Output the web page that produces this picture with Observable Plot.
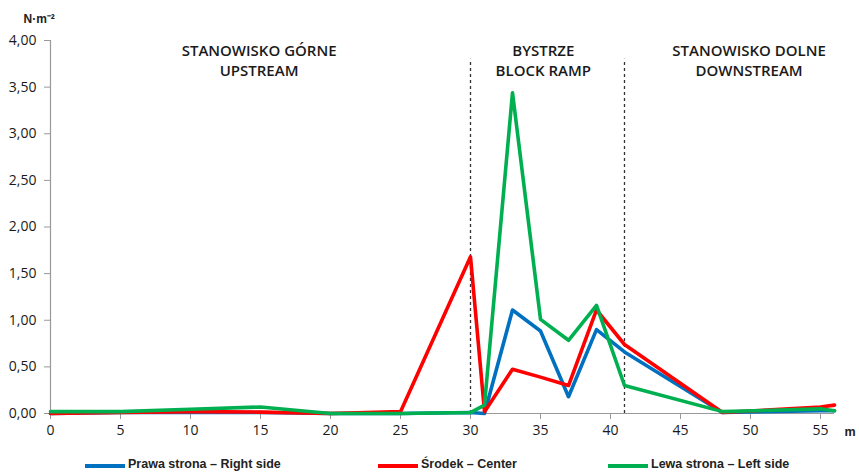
<!DOCTYPE html>
<html>
<head>
<meta charset="utf-8">
<script src="https://cdn.jsdelivr.net/npm/d3@7"></script>
<script src="https://cdn.jsdelivr.net/npm/@observablehq/plot@0.6"></script>
<style>
  body { margin: 0; background: #fff; }
  #wrap { position: relative; width: 859px; height: 473px; }
  .leg { position: absolute; top: 457px; height: 16px; font-family: "Liberation Sans", Arial, sans-serif; font-weight: bold; font-size: 12.5px; color: #222; white-space: nowrap; }
  .leg span.sw { position: absolute; top: 7px; height: 4px; }
  .leg span.tx { position: absolute; top: 0; }
</style>
</head>
<body>
<div id="wrap"></div>
<script>
// ---- data ----
const distances = [0, 5, 10, 15, 20, 25, 30, 31, 33, 35, 37, 39, 41, 48, 55, 56];
const rightSide = [0, 0.01, 0.01, 0.01, 0, 0, 0.01, 0.0, 1.11, 0.885, 0.18, 0.90, 0.66, 0.01, 0.03, 0.03];
const center    = [0, 0.01, 0.02, 0.015, 0, 0.02, 1.68, 0.02, 0.475, 0.39, 0.30, 1.11, 0.74, 0.01, 0.07, 0.09];
const leftSide  = [0.02, 0.02, 0.045, 0.07, 0.0, 0.0, 0.01, 0.09, 3.44, 1.01, 0.785, 1.16, 0.30, 0.02, 0.05, 0.03];
const seriesNames = ["Prawa strona \u2013 Right side", "\u015arodek \u2013 Center", "Lewa strona \u2013 Left side"];
const seriesColors = ["#0070C0", "#FF0000", "#00B050"];
const xTicks = [0, 5, 10, 15, 20, 25, 30, 35, 40, 45, 50, 55];
const yTicks = [0, 0.5, 1, 1.5, 2, 2.5, 3, 3.5, 4];
const sectionBounds = [30, 41];
const sectionLine1 = ["STANOWISKO G\u00d3RNE", "BYSTRZE", "STANOWISKO DOLNE"];
const sectionLine2 = ["UPSTREAM", "BLOCK RAMP", "DOWNSTREAM"];
const sectionCenters = [14.9, 35.2, 49.9];

const seriesValues = [rightSide, center, leftSide];
const rows = [];
seriesValues.forEach((vals, si) => {
  vals.forEach((v, i) => rows.push({series: seriesNames[si], x: distances[i], y: v}));
});
const sections = sectionLine1.map((t, i) => ({x: sectionCenters[i], t1: t, t2: sectionLine2[i]}));

const fmt = d => d.toFixed(2).replace(".", ",");
const tickFont = "Open Sans, sans-serif";

const chart = Plot.plot({
  width: 859,
  height: 450,
  marginLeft: 50,
  marginRight: 25,
  marginTop: 40,
  marginBottom: 37,
  style: {fontFamily: tickFont, fontSize: "14px", color: "#1a1a1a", background: "#fff", overflow: "visible"},
  x: {domain: [0, 56]},
  y: {domain: [0, 4]},
  color: {domain: seriesNames, range: seriesColors},
  marks: [
    Plot.axisX({ticks: xTicks, tickFormat: d => String(d), tickSize: 6, tickPadding: 6, stroke: "#999", fontSize: 14, fontWeight: 500, label: null, fill: "#1a1a1a"}),
    Plot.axisY({ticks: yTicks, tickFormat: fmt, tickSize: 6, tickPadding: 8, stroke: "#999", fontSize: 14, fontWeight: 500, label: null, fill: "#1a1a1a"}),
    Plot.ruleY([0], {stroke: "#999", strokeWidth: 1.2}),
    Plot.ruleX([0], {stroke: "#999", strokeWidth: 1.2}),
    Plot.ruleX(sectionBounds, {y1: 0, y2: 3.8, stroke: "#333", strokeWidth: 1.3, strokeDasharray: "3,3"}),
    Plot.line(rows, {x: "x", y: "y", z: "series", stroke: "series", strokeWidth: 3.6, strokeLinejoin: "round", strokeLinecap: "round"}),
    Plot.text(sections, {x: "x", y: 3.89, text: "t1", fontFamily: tickFont, fontSize: 15, fontWeight: 600, fill: "#1a1a1a"}),
    Plot.text(sections, {x: "x", y: 3.675, text: "t2", fontFamily: tickFont, fontSize: 15, fontWeight: 600, fill: "#1a1a1a"}),
    Plot.text(["N\u00b7m\u207b\u00b2"], {frameAnchor: "top-left", textAnchor: "start", dx: -27, dy: -26, fontFamily: "Liberation Sans, Arial, sans-serif", fontWeight: "bold", fontSize: 12, fill: "#222"}),
    Plot.text(["m"], {frameAnchor: "bottom-right", textAnchor: "start", dx: 10, dy: 22, fontFamily: "Liberation Sans, Arial, sans-serif", fontWeight: "bold", fontSize: 12.5, fill: "#222"})
  ]
});
const wrap = document.getElementById("wrap");
wrap.appendChild(chart);

// legend
const legendPos = [85, 378, 608];
seriesNames.forEach((name, i) => {
  const d = document.createElement("div");
  d.className = "leg";
  d.style.left = legendPos[i] + "px";
  d.innerHTML = `<span class="sw" style="left:0;width:40px;background:${seriesColors[i]}"></span><span class="tx" style="left:43px">${name}</span>`;
  wrap.appendChild(d);
});
</script>
</body>
</html>
